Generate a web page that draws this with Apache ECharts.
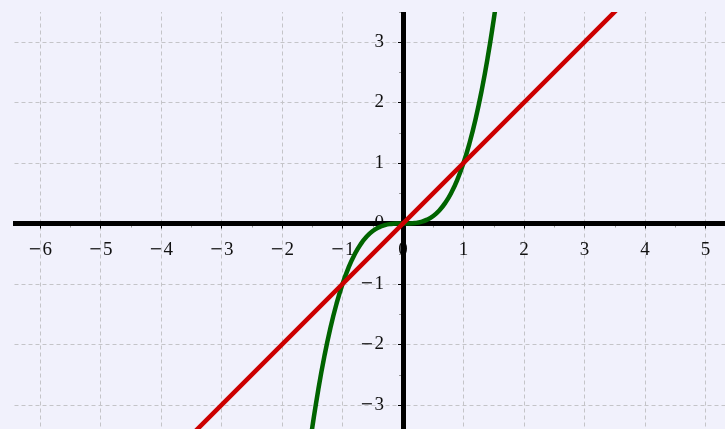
<!DOCTYPE html>
<html>
<head>
<meta charset="utf-8">
<script src="https://cdn.jsdelivr.net/npm/echarts@6/dist/echarts.min.js"></script>
<style>
html,body{margin:0;padding:0;background:#f1f1fc;}
#chart{width:725px;height:429px;}
</style>
</head>
<body>
<div id="chart"></div>
<script>
// Values
var cubicX = [-1.55, -1.5, -1.4, -1.3, -1.2, -1.1, -1.0, -0.9, -0.8, -0.7, -0.6, -0.5, -0.4, -0.3, -0.2, -0.1, 0,
              0.1, 0.2, 0.3, 0.4, 0.5, 0.6, 0.7, 0.8, 0.9, 1.0, 1.1, 1.2, 1.3, 1.4, 1.5, 1.55];
var cubicY = [-3.724, -3.375, -2.744, -2.197, -1.728, -1.331, -1.0, -0.729, -0.512, -0.343, -0.216, -0.125, -0.064, -0.027, -0.008, -0.001, 0,
              0.001, 0.008, 0.027, 0.064, 0.125, 0.216, 0.343, 0.512, 0.729, 1.0, 1.331, 1.728, 2.197, 2.744, 3.375, 3.724];
var lineX = [-3.8, 3.8];
var lineY = [-3.8, 3.8];
var xTickLabels = ['−7','−6','−5','−4','−3','−2','−1','0','1','2','3','4','5','6'];
var yTickLabels = ['−4','−3','−2','−1','0','1','2','3','4'];

var bg = '#f1f1fc';
var font = '"Liberation Serif", "DejaVu Serif", serif';
function zip(a, b) { return a.map(function (v, i) { return [v, b[i]]; }); }
function fmt(v) {
  return v < 0 ? '{m|−}{d|' + Math.abs(v) + '}' : '{d|' + v + '}';
}
var rich = {
  m: {fontFamily: '"DejaVu Serif", serif', fontSize: 16, color: '#111', padding: [0, 1, 0, 0]},
  d: {fontFamily: font, fontSize: 19, color: '#111'}
};

var chart = echarts.init(document.getElementById('chart'), null, {renderer: 'canvas'});
var common = {type: 'value', interval: 1};
chart.setOption({
  backgroundColor: bg,
  animation: false,
  grid: {left: -20.5, top: -18.5, width: 786.5, height: 484, containLabel: false, outerBoundsMode: 'none'},
  xAxis: [
    Object.assign({}, common, {
      min: -7, max: 6, z: 0, position: 'bottom', offset: -242,
      axisLine: {show: false, onZero: false},
      axisTick: {show: true, length: 5, lineStyle: {color: '#000', width: 1}},
      minorTick: {show: true, splitNumber: 2, length: 4, lineStyle: {color: '#999', width: 1}},
      axisLabel: {show: true, margin: 17, fontFamily: font, fontSize: 19, color: '#111', formatter: fmt, rich: rich},
      splitLine: {show: true, lineStyle: {color: '#c4c4c8', width: 1, type: [4, 3]}}
    }),
    Object.assign({}, common, {
      min: -7, max: 6, z: 1,
      axisLine: {show: true, onZero: true, lineStyle: {color: '#000', width: 5}},
      axisTick: {show: false}, axisLabel: {show: false}, splitLine: {show: false}
    })
  ],
  yAxis: [
    Object.assign({}, common, {
      min: -4, max: 4, z: 0, position: 'left', offset: -423.5,
      axisLine: {show: false, onZero: false},
      axisTick: {show: true, length: 5, lineStyle: {color: '#000', width: 1}},
      minorTick: {show: true, splitNumber: 2, length: 4, lineStyle: {color: '#999', width: 1}},
      axisLabel: {show: true, margin: 19, fontFamily: font, fontSize: 19, color: '#111', formatter: fmt, rich: rich},
      splitLine: {show: true, lineStyle: {color: '#c4c4c8', width: 1, type: [4, 3]}}
    }),
    Object.assign({}, common, {
      min: -4, max: 4, z: 1,
      axisLine: {show: true, onZero: true, lineStyle: {color: '#000', width: 5}},
      axisTick: {show: false}, axisLabel: {show: false}, splitLine: {show: false}
    })
  ],
  series: [
    {type: 'line', name: 'cubic', data: zip(cubicX, cubicY), smooth: true, symbol: 'none', z: 3,
     xAxisIndex: 0, yAxisIndex: 0,
     lineStyle: {color: '#006400', width: 4.5}},
    {type: 'line', name: 'linear', data: zip(lineX, lineY), symbol: 'none', z: 4,
     xAxisIndex: 0, yAxisIndex: 0,
     lineStyle: {color: '#cc0000', width: 4.5}}
  ],
  graphic: [
    {type: 'rect', left: 0, top: 0, z: 100, shape: {width: 13, height: 429}, style: {fill: bg}},
    {type: 'rect', left: 0, top: 0, z: 100, shape: {width: 725, height: 12}, style: {fill: bg}}
  ]
});
</script>
</body>
</html>
